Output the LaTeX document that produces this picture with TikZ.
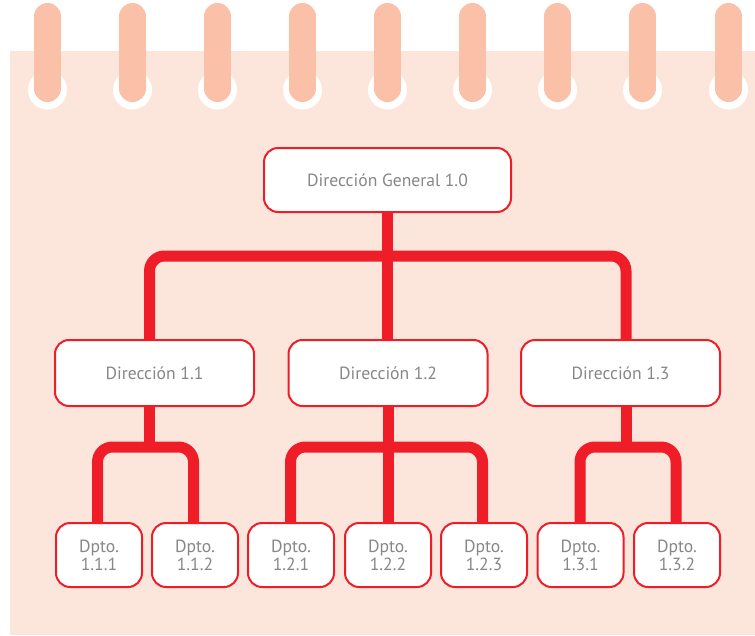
\documentclass[tikz,border=0pt]{standalone}
\usepackage{fontspec}
\setmainfont{PT Sans}
\usetikzlibrary{calc}
\definecolor{paper}{HTML}{FCE6DC}
\definecolor{ring}{HTML}{FAC0A8}
\definecolor{ingred}{HTML}{EE1D27}
\definecolor{txt}{HTML}{878787}
\begin{document}
\begin{tikzpicture}[x=1pt,y=-1pt,
  box/.style={draw=ingred, line width=2pt, fill=white, rounded corners=14pt,
    text=txt, font=\fontsize{17.6}{18}\selectfont, align=center, inner sep=0pt},
  topbox/.style={box, minimum width=247pt, minimum height=64pt},
  midbox/.style={box, minimum width=199pt, minimum height=66pt},
  dptbox/.style={box, minimum width=86pt, minimum height=64pt},
  conn/.style={draw=ingred, line width=11pt, rounded corners=15pt},
  ringline/.style={draw=ring, line width=27pt, line cap=round}
]
\useasboundingbox (0,0) rectangle (755,635);
\fill[white] (0,0) rectangle (755,635);
\fill[paper] (10,51) rectangle (755,635);
\foreach \x in {47.5,132.5,217.5,302.5,387.5,472.5,557.5,642.5,728.5} {
  \fill[white] (\x,90) circle (19.5);
  \draw[ringline] (\x,16.5) -- (\x,88.5);
}
% nodes
\node[topbox] (top) at (387.5,180) {Dirección General 1.0};
\node[midbox] (m1) at (154.5,373) {Dirección 1.1};
\node[midbox] (m2) at (388,373) {Dirección 1.2};
\node[midbox] (m3) at (620.5,373) {Dirección 1.3};
\node[dptbox] (d111) at (99,555) {Dpto.\\1.1.1};
\node[dptbox] (d112) at (195,555) {Dpto.\\1.1.2};
\node[dptbox] (d121) at (291,555) {Dpto.\\1.2.1};
\node[dptbox] (d122) at (388,555) {Dpto.\\1.2.2};
\node[dptbox] (d123) at (484,555) {Dpto.\\1.2.3};
\node[dptbox] (d131) at (580.5,555) {Dpto.\\1.3.1};
\node[dptbox] (d132) at (677,555) {Dpto.\\1.3.2};
% connectors level 1
\coordinate (bar0) at (388,256);
\draw[conn] (top.south) -- (top.south |- m2.north);
\draw[conn] ([xshift=-5pt]m1.north) |- (bar0) -| ([xshift=5.5pt]m3.north);
% connectors level 2
\coordinate (b1) at ($(m1.south)+(-5,40)$);
\draw[conn] ([xshift=-5pt]m1.south) -- (b1);
\draw[conn] ([xshift=-1.5pt]d111.north) |- (b1) -| ([xshift=-1.5pt]d112.north);
\coordinate (b2) at ($(m2.south)+(0,40)$);
\draw[conn] (m2.south) -- (d122.north);
\draw[conn] ([xshift=-0.5pt]d121.north) |- (b2) -| ([xshift=-1.5pt]d123.north);
\coordinate (b3) at ($(m3.south)+(5.5,40)$);
\draw[conn] ([xshift=5.5pt]m3.south) -- (b3);
\draw[conn] ([xshift=-0.5pt]d131.north) |- (b3) -| ([xshift=-1pt]d132.north);
\end{tikzpicture}
\end{document}
